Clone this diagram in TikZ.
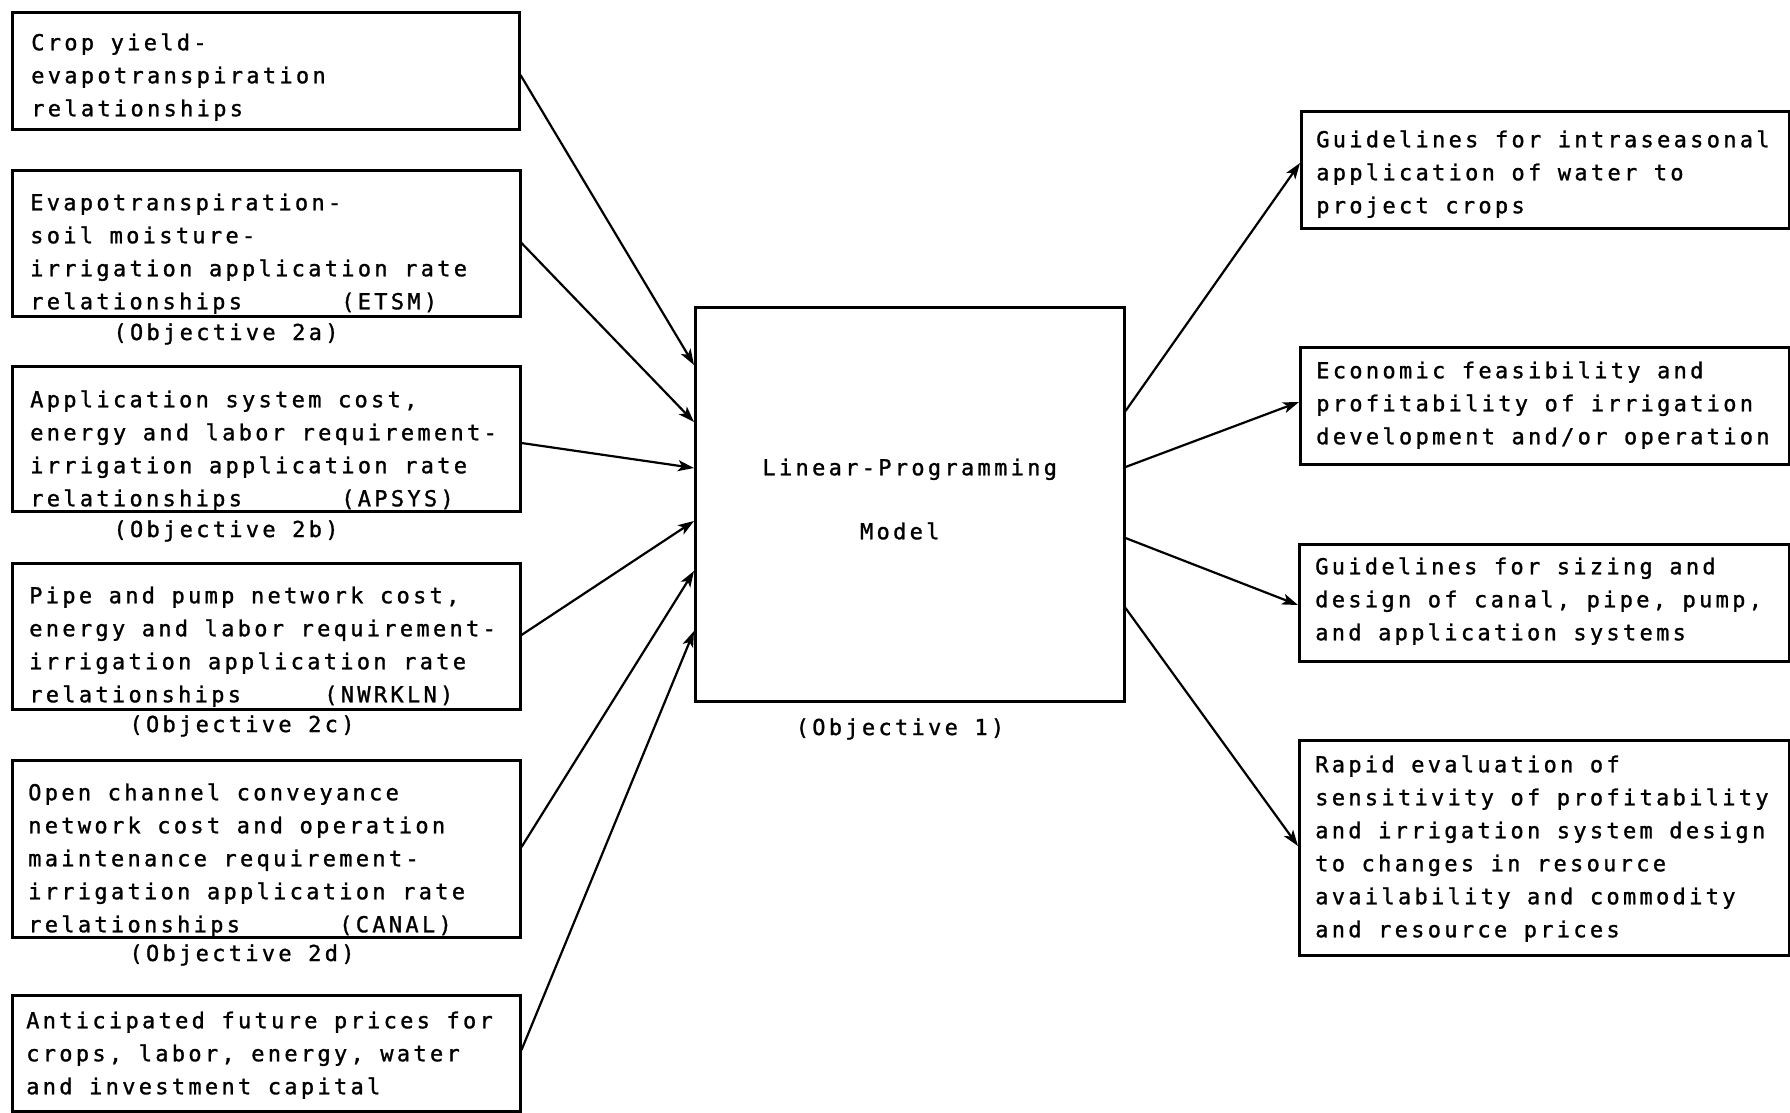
\documentclass[tikz,border=0pt]{standalone}
\usepackage{fontspec}
\setmainfont{DejaVu Sans Mono}[LetterSpace=15,FakeBold=1.2]
\usetikzlibrary{arrows.meta}
% width, height, first-baseline offset, left pad, content
\newcommand{\bxt}[5]{\begin{minipage}[c][#2][t]{#1}\raggedright\leftskip=#4\parindent=0pt\baselineskip=33pt\rule{0pt}{#3}#5\end{minipage}}
\begin{document}
\begin{tikzpicture}[x=1pt,y=-1pt,
  every node/.style={font=\fontsize{22}{33}\selectfont},
  box/.style={draw,line width=2.5pt,inner sep=0pt,anchor=north west},
  lab/.style={inner sep=0pt,anchor=base},
  arr/.style={line width=2.2pt,-{Stealth[length=16pt,width=11pt,inset=4pt]}}]
\useasboundingbox (0,0) rectangle (1790,1112);
% left inputs
\node[box] (b1) at (11,11) {\bxt{507pt}{117pt}{38pt}{19pt}{Crop yield-\\evapotranspiration\\relationships}};
\node[box] (b2) at (11,169) {\bxt{508pt}{146pt}{40pt}{18pt}{Evapotranspiration-\\soil moisture-\\irrigation application rate\\\makebox[311pt][l]{relationships}(ETSM)}};
\node[lab] (o2a) at (226,340) {(Objective 2a)};
\node[box] (b3) at (11,365) {\bxt{508pt}{145pt}{41pt}{18pt}{Application system cost,\\energy and labor requirement-\\irrigation application rate\\\makebox[311pt][l]{relationships}(APSYS)}};
\node[lab] (o2b) at (226,537) {(Objective 2b)};
\node[box] (b4) at (11,562) {\bxt{508pt}{146pt}{40pt}{17pt}{Pipe and pump network cost,\\energy and labor requirement-\\irrigation application rate\\\makebox[295pt][l]{relationships}(NWRKLN)}};
\node[lab] (o2c) at (242,732) {(Objective 2c)};
\node[box] (b5) at (11,759) {\bxt{508pt}{177pt}{40pt}{16pt}{Open channel conveyance\\network cost and operation\\maintenance requirement-\\irrigation application rate\\\makebox[311pt][l]{relationships}(CANAL)}};
\node[lab] (o2d) at (242,961) {(Objective 2d)};
\node[box] (b6) at (11,994) {\bxt{508pt}{116pt}{33pt}{14pt}{Anticipated future prices for\\crops, labor, energy, water\\and investment capital}};
% centre
\node[box] (lp) at (694,306) {\begin{minipage}[c][394pt][t]{429pt}\centering\baselineskip=64pt\rule{0pt}{168pt}Linear-Programming\\Model\hspace*{20pt}\end{minipage}};
\node[lab] (o1) at (900,735) {(Objective 1)};
% right outputs
\node[box] (r1) at (1300,110) {\bxt{488pt}{117pt}{36pt}{15pt}{Guidelines for intraseasonal\\application of water to\\project crops}};
\node[box] (r2) at (1299,346) {\bxt{489pt}{117pt}{31pt}{16pt}{Economic feasibility and\\profitability of irrigation\\development and/or operation}};
\node[box] (r3) at (1298,543) {\bxt{490pt}{117pt}{30pt}{16pt}{Guidelines for sizing and\\design of canal, pipe, pump,\\and application systems}};
\node[box] (r4) at (1298,739) {\bxt{490pt}{215pt}{32pt}{16pt}{Rapid evaluation of\\sensitivity of profitability\\and irrigation system design\\to changes in resource\\availability and commodity\\and resource prices}};
% connectors in
\draw[arr] ([yshift=-64pt]b1.north east) -- ([yshift=-59pt]lp.north west);
\draw[arr] ([yshift=-74pt]b2.north east) -- ([yshift=-116pt]lp.north west);
\draw[arr] ([yshift=-78pt]b3.north east) -- ([yshift=-162pt]lp.north west);
\draw[arr] ([yshift=-73pt]b4.north east) -- ([yshift=-215pt]lp.north west);
\draw[arr] ([yshift=-88pt]b5.north east) -- ([yshift=-265pt]lp.north west);
\draw[arr] ([yshift=-56pt]b6.north east) -- ([yshift=-325pt]lp.north west);
% connectors out
\draw[arr] ([yshift=-105pt]lp.north east) -- ([yshift=-53pt]r1.north west);
\draw[arr] ([yshift=-161pt]lp.north east) -- ([yshift=-56pt]r2.north west);
\draw[arr] ([yshift=-232pt]lp.north east) -- ([yshift=-62pt]r3.north west);
\draw[arr] ([yshift=-302pt]lp.north east) -- ([yshift=-107pt]r4.north west);
\end{tikzpicture}
\end{document}
